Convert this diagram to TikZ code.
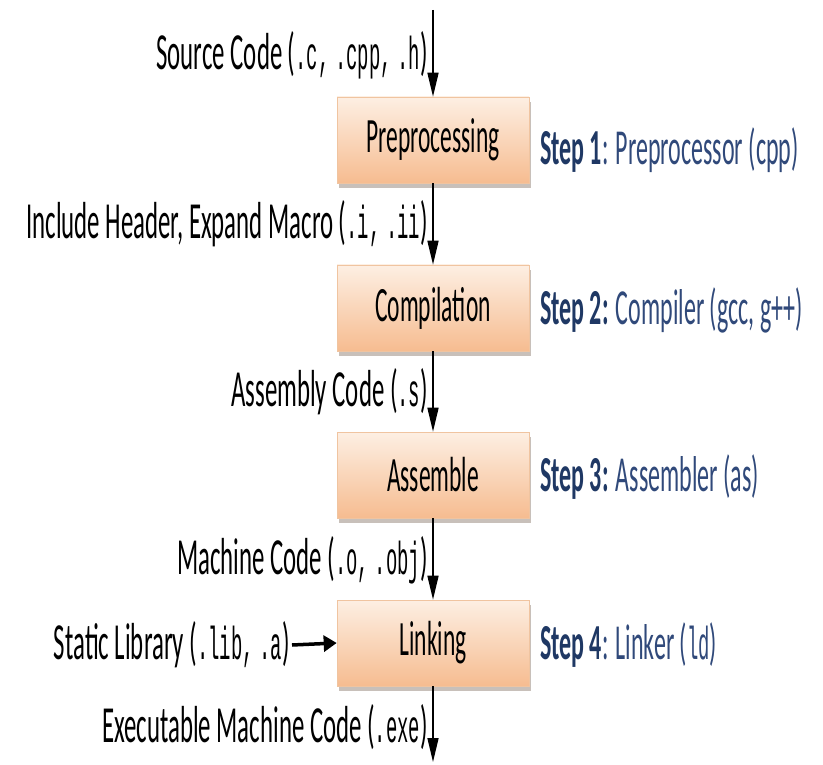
\documentclass[tikz,border=0pt]{standalone}
\usepackage{fontspec}
\usepackage{graphicx}
\setmainfont{Carlito}
\newfontfamily\cons{Liberation Mono}
\usetikzlibrary{arrows.meta,shadows}
\definecolor{boxtop}{HTML}{FDEFE3}
\definecolor{boxbot}{HTML}{F6BC90}
\definecolor{boxline}{HTML}{F0C4A0}
\definecolor{stepbold}{HTML}{1F3864}
\definecolor{steptxt}{HTML}{30497A}
\newcommand\sq[1]{\scalebox{1}[2.1]{#1}}
\newcommand\mo[1]{{\cons\fontsize{22}{24}\selectfont\scalebox{0.86}[1]{#1}}}
\tikzset{
  stagebox/.style={rectangle, draw=boxline, line width=0.6pt,
    top color=boxtop, bottom color=boxbot, minimum width=192pt, minimum height=86pt,
    inner sep=0pt, font=\fontsize{23.5}{28}\selectfont,
    drop shadow={shadow xshift=2pt, shadow yshift=-5pt, opacity=0.35, fill=black!60!boxbot}},
  lbl/.style={anchor=east, inner sep=0pt, font=\fontsize{24.8}{28}\selectfont},
  steplbl/.style={anchor=west, inner sep=0pt, font=\fontsize{24}{28}\selectfont, text=steptxt},
  flow/.style={line width=1.6pt, -{Triangle[length=24pt,width=11pt]}},
  sideflow/.style={line width=3.5pt, -{Triangle[length=13pt,width=16pt]}}
}
\begin{document}
\begin{tikzpicture}[x=1pt,y=-1pt]
\useasboundingbox (0,0) rectangle (823,765);
\node[stagebox] (b1) at (433,140) {\sq{Preprocessing}};
\node[stagebox] (b2) at (433,308) {\sq{Compilation}};
\node[stagebox] (b3) at (433,475) {\sq{Assemble}};
\node[stagebox] (b4) at (433,643) {\sq{Linking}};
\coordinate (top) at (433,10);
\coordinate (bot) at (433,762);
\coordinate (libend) at (290,645);
\draw[flow] (top) -- (b1.north);
\draw[flow] (b1.south) -- (b2.north);
\draw[flow] (b2.south) -- (b3.north);
\draw[flow] (b3.south) -- (b4.north);
\draw[flow] (b4.south) -- (bot);
\node[lbl] (l0) at (428,55) {\sq{Source Code (\mo{.c,} \mo{.cpp,} \mo{.h})}};
\node[lbl] (l1) at (428,224) {\sq{Include Header, Expand Macro (\mo{.i,} \mo{.ii})}};
\node[lbl] (l2) at (428,392) {\sq{Assembly Code (\mo{.s})}};
\node[lbl] (l3) at (428,560) {\sq{Machine Code (\mo{.o,} \mo{.obj})}};
\node[lbl] (l4) at (428,727) {\sq{Executable Machine Code (\mo{.exe})}};
\node[lbl] (lib) at (libend) {\sq{Static Library (\mo{.lib,} \mo{.a})}};
\draw[sideflow] ([xshift=2pt]lib.east) -- (b4.west);
\node[steplbl] (s1) at (540,150) {\sq{\textbf{\color{stepbold}Step 1}: Preprocessor (cpp)}};
\node[steplbl] (s2) at (540,310) {\sq{\textbf{\color{stepbold}Step 2:} Compiler (gcc, g++)}};
\node[steplbl] (s3) at (540,477) {\sq{\textbf{\color{stepbold}Step 3:} Assembler (as)}};
\node[steplbl] (s4) at (540,645) {\sq{\textbf{\color{stepbold}Step 4}: Linker (\mo{ld})}};
\end{tikzpicture}
\end{document}
